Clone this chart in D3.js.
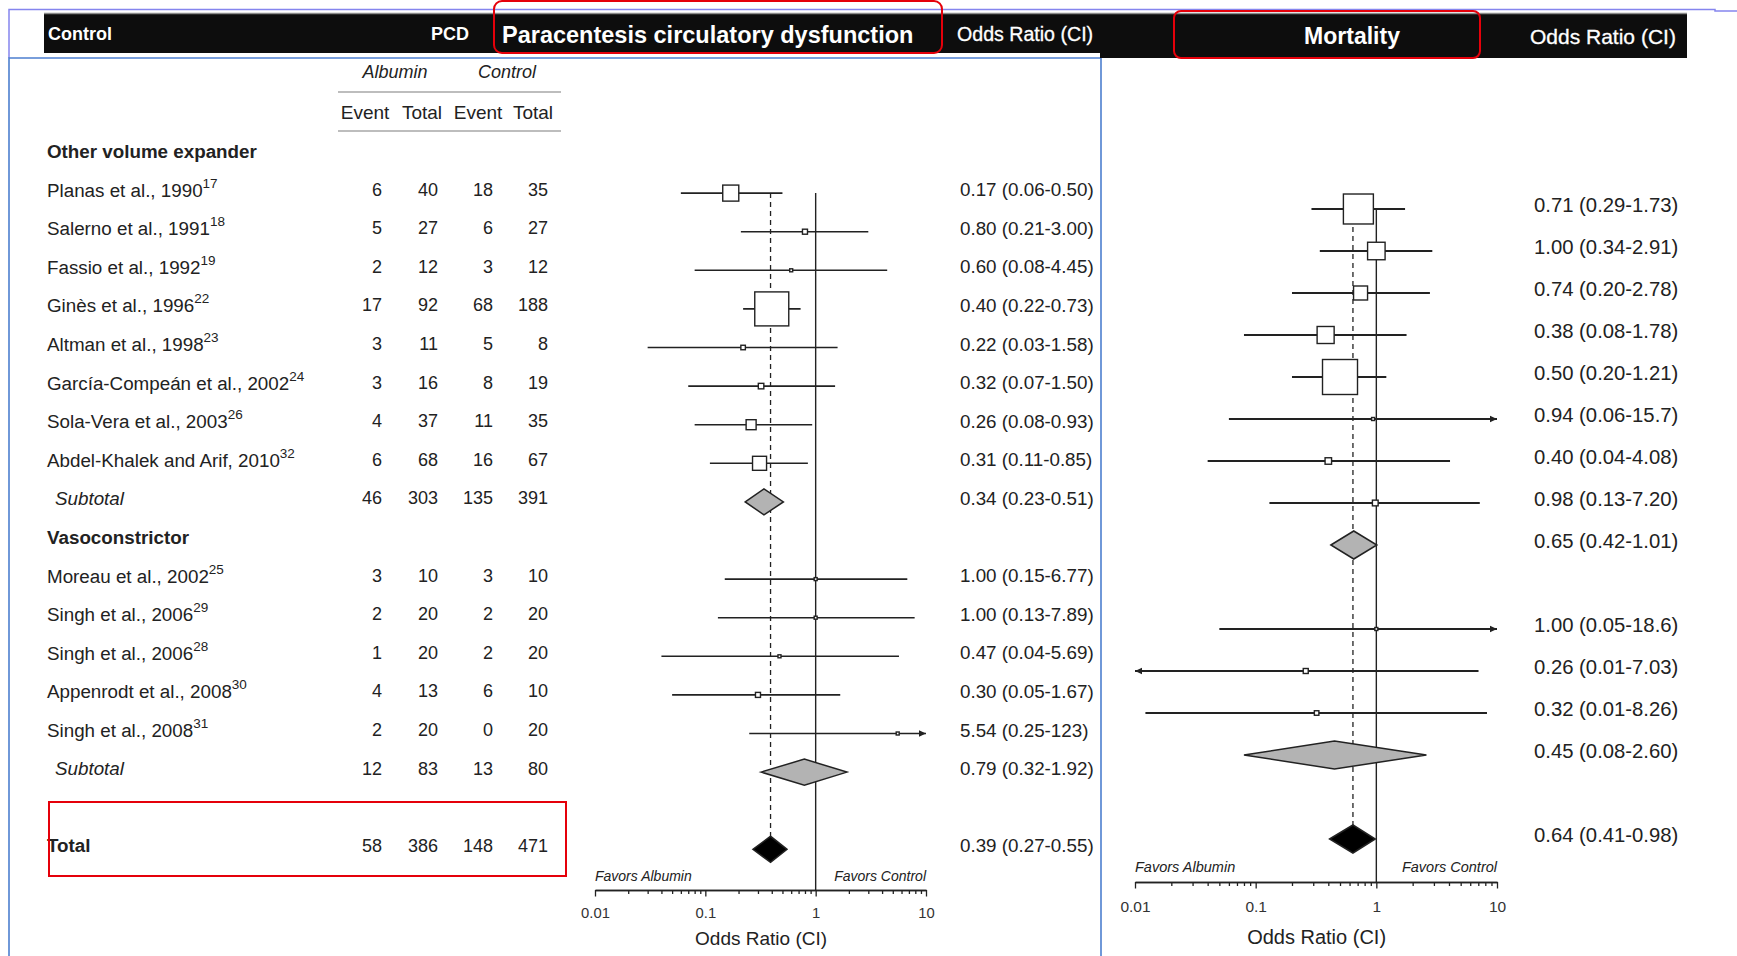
<!DOCTYPE html>
<html>
<head>
<meta charset="utf-8">
<script src="https://cdn.jsdelivr.net/npm/d3@7"></script>
<style>
  body { margin: 0; background: #fff; }
  svg { display: block; }
  text { font-family: "Liberation Sans", Arial, Helvetica, sans-serif; fill: #222; }
</style>
</head>
<body>
<svg id="chart" width="1737" height="956"></svg>
<script>
// ---------- PCD (paracentesis circulatory dysfunction) table ----------
const pcdKinds = ["group", "study", "study", "study", "study", "study", "study", "study", "study", "subtotal",
                  "group", "study", "study", "study", "study", "study", "subtotal", "blank", "total"];
const pcdLabels = ["Other volume expander", "Planas et al., 1990", "Salerno et al., 1991", "Fassio et al., 1992",
                   "Ginès et al., 1996", "Altman et al., 1998", "García-Compeán et al., 2002", "Sola-Vera et al., 2003",
                   "Abdel-Khalek and Arif, 2010", "Subtotal", "Vasoconstrictor", "Moreau et al., 2002",
                   "Singh et al., 2006", "Singh et al., 2006", "Appenrodt et al., 2008", "Singh et al., 2008",
                   "Subtotal", "", "Total"];
const pcdRefs = ["", "17", "18", "19", "22", "23", "24", "26", "32", "", "", "25", "29", "28", "30", "31", "", "", ""];
const albuminEvents = [null, 6, 5, 2, 17, 3, 3, 4, 6, 46, null, 3, 2, 1, 4, 2, 12, null, 58];
const albuminTotals = [null, 40, 27, 12, 92, 11, 16, 37, 68, 303, null, 10, 20, 20, 13, 20, 83, null, 386];
const controlEvents = [null, 18, 6, 3, 68, 5, 8, 11, 16, 135, null, 3, 2, 2, 6, 0, 13, null, 148];
const controlTotals = [null, 35, 27, 12, 188, 8, 19, 35, 67, 391, null, 10, 20, 20, 10, 20, 80, null, 471];
const pcdOR    = [null, 0.17, 0.80, 0.60, 0.40, 0.22, 0.32, 0.26, 0.31, 0.34, null, 1.00, 1.00, 0.47, 0.30, 5.54, 0.79, null, 0.39];
const pcdLower = [null, 0.06, 0.21, 0.08, 0.22, 0.03, 0.07, 0.08, 0.11, 0.23, null, 0.15, 0.13, 0.04, 0.05, 0.25, 0.32, null, 0.27];
const pcdUpper = [null, 0.50, 3.00, 4.45, 0.73, 1.58, 1.50, 0.93, 0.85, 0.51, null, 6.77, 7.89, 5.69, 1.67, 123, 1.92, null, 0.55];
const pcdWeight = [null, 8.9, 0.87, 0.31, 40, 0.7, 1.05, 3.46, 6.8, null, null, 0.31, 0.31, 0.31, 0.87, 0.31, null, null, null];

// ---------- Mortality ----------
const mortKinds = ["study", "study", "study", "study", "study", "study", "study", "study", "subtotal", "blank",
                   "study", "study", "study", "subtotal", "blank", "total"];
const mortOR    = [0.71, 1.00, 0.74, 0.38, 0.50, 0.94, 0.40, 0.98, 0.65, null, 1.00, 0.26, 0.32, 0.45, null, 0.64];
const mortLower = [0.29, 0.34, 0.20, 0.08, 0.20, 0.06, 0.04, 0.13, 0.42, null, 0.05, 0.0096, 0.0122, 0.08, null, 0.41];
const mortUpper = [1.73, 2.91, 2.78, 1.78, 1.21, 15.7, 4.08, 7.20, 1.01, null, 18.6, 7.03, 8.26, 2.60, null, 0.98];
const mortWeight = [22, 7.5, 4.8, 7.1, 30, 0.22, 1.03, 0.8, null, null, 0.22, 0.61, 0.5, null, null, null];

// ---------- axis ----------
const majorTicks = [0.01, 0.1, 1, 10];
const majorTickLabels = ["0.01", "0.1", "1", "10"];

const svg = d3.select("#chart");

// number formatting for "OR (lower-upper)" labels
function fmt(v) {
  if (v >= 100) return v.toFixed(0);
  if (v >= 10) return v.toFixed(1);
  return v.toFixed(2);
}

// ---------- frame lines ----------
svg.append("path").attr("d", "M9,58V9.5H1715V11H1737")
  .attr("fill", "none").attr("stroke", "#8585ee").attr("stroke-width", 1.5);
svg.append("path").attr("d", "M9,956V58H1101V956")
  .attr("fill", "none").attr("stroke", "#4d7fcf").attr("stroke-width", 1.6);

// ---------- header bars ----------
svg.append("rect").attr("x", 44).attr("y", 13).attr("width", 1056).attr("height", 40).attr("fill", "#0d0d0d");
svg.append("rect").attr("x", 1100).attr("y", 13).attr("width", 587).attr("height", 45).attr("fill", "#0d0d0d");
svg.append("line").attr("x1", 44).attr("x2", 1687).attr("y1", 13.5).attr("y2", 13.5)
  .attr("stroke", "#8a8a8a").attr("stroke-width", 1.5);

const hdr = svg.append("g");
hdr.append("text").attr("x", 48).attr("y", 34).attr("dominant-baseline", "central")
  .attr("font-size", 18).attr("font-weight", "bold").style("fill", "#fff").text("Control");
hdr.append("text").attr("x", 469).attr("y", 34).attr("dominant-baseline", "central").attr("text-anchor", "end")
  .attr("font-size", 18).attr("font-weight", "bold").style("fill", "#fff").text("PCD");
hdr.append("text").attr("x", 502).attr("y", 35).attr("dominant-baseline", "central")
  .attr("font-size", 23.5).attr("font-weight", "bold").style("fill", "#fff").text("Paracentesis circulatory dysfunction");
hdr.append("text").attr("x", 957).attr("y", 34).attr("dominant-baseline", "central")
  .attr("font-size", 19.6).style("fill", "#fff").style("stroke", "#fff").style("stroke-width", 0.3)
  .text("Odds Ratio (CI)");
hdr.append("text").attr("x", 1352).attr("y", 36).attr("dominant-baseline", "central").attr("text-anchor", "middle")
  .attr("font-size", 23).attr("font-weight", "bold").style("fill", "#fff").text("Mortality");
hdr.append("text").attr("x", 1530).attr("y", 36).attr("dominant-baseline", "central")
  .attr("font-size", 21).style("fill", "#fff").style("stroke", "#fff").style("stroke-width", 0.3)
  .text("Odds Ratio (CI)");

// ---------- study table ----------
const table = svg.append("g");
const colRight = [382, 438, 493, 548];
const headCenter = [365, 422, 478, 533];
const rowTop = 151, rowPitch = 38.6;
const rowY = i => rowTop + rowPitch * i;

table.append("text").attr("x", 395).attr("y", 72).attr("text-anchor", "middle").attr("dominant-baseline", "central")
  .attr("font-size", 18).attr("font-style", "italic").text("Albumin");
table.append("text").attr("x", 507).attr("y", 72).attr("text-anchor", "middle").attr("dominant-baseline", "central")
  .attr("font-size", 18).attr("font-style", "italic").text("Control");
[92, 131].forEach(y => table.append("line").attr("x1", 338).attr("x2", 561).attr("y1", y).attr("y2", y)
  .attr("stroke", "#bdbdbd").attr("stroke-width", 2));
["Event", "Total", "Event", "Total"].forEach((t, k) =>
  table.append("text").attr("x", headCenter[k]).attr("y", 112).attr("text-anchor", "middle")
    .attr("dominant-baseline", "central").attr("font-size", 19).text(t));

const numberCols = [albuminEvents, albuminTotals, controlEvents, controlTotals];
pcdKinds.forEach((kind, i) => {
  if (kind === "blank") return;
  const y = rowY(i);
  const t = table.append("text").attr("y", y).attr("dominant-baseline", "central").attr("font-size", 18.8);
  if (kind === "group") {
    t.attr("x", 47).attr("font-weight", "bold").text(pcdLabels[i]);
    return;
  }
  if (kind === "study") {
    t.attr("x", 47);
    t.append("tspan").text(pcdLabels[i]);
    t.append("tspan").attr("font-size", 13.5).attr("dy", -7).text(pcdRefs[i]);
  } else if (kind === "subtotal") {
    t.attr("x", 55).attr("font-style", "italic").text(pcdLabels[i]);
  } else if (kind === "total") {
    t.attr("x", 47).attr("font-weight", "bold").text(pcdLabels[i]);
  }
  numberCols.forEach((col, k) => {
    table.append("text").attr("x", colRight[k]).attr("y", y).attr("text-anchor", "end")
      .attr("dominant-baseline", "central").attr("font-size", 18).text(col[i]);
  });
});

// ---------- forest plot ----------
function drawForest(opts, kinds, or, lo, hi, wt) {
  const g = svg.append("g");
  const x = d3.scaleLog().domain([0.01, 10]).range([opts.x0, opts.x1]);
  const size = d3.scaleSqrt().domain([0, d3.max(wt)]).range([0, opts.maxBox]);
  const textY = i => opts.top + opts.pitch * i;
  const markY = i => textY(i) + opts.markDy;
  const first = kinds.indexOf("study");
  const total = kinds.indexOf("total");
  const ink = "#222";

  // reference lines: no effect (OR = 1) and pooled estimate
  g.append("line").attr("x1", x(1)).attr("x2", x(1)).attr("y1", markY(first)).attr("y2", opts.axisY)
    .attr("stroke", ink).attr("stroke-width", 1.4);
  g.append("line").attr("x1", x(or[total])).attr("x2", x(or[total]))
    .attr("y1", markY(first)).attr("y2", markY(total) - opts.diamondH)
    .attr("stroke", ink).attr("stroke-width", 1.3).attr("stroke-dasharray", "5,4");

  // confidence intervals
  kinds.forEach((k, i) => {
    if (k !== "study") return;
    const y = markY(i);
    const xa = x(Math.max(lo[i], 0.01)), xb = x(Math.min(hi[i], 10));
    g.append("line").attr("x1", xa).attr("x2", xb).attr("y1", y).attr("y2", y)
      .attr("stroke", ink).attr("stroke-width", opts.lineW);
    if (hi[i] > 10) {
      g.append("path").attr("d", `M${xb},${y}l-7,-3.2v6.4z`).attr("fill", ink);
    }
    if (lo[i] < 0.01) {
      g.append("path").attr("d", `M${xa},${y}l7,-3.2v6.4z`).attr("fill", ink);
    }
  });

  // study boxes sized by weight
  kinds.forEach((k, i) => {
    if (k !== "study") return;
    const s = Math.max(size(wt[i]), 2.6);
    g.append("rect").attr("x", x(or[i]) - s / 2).attr("y", markY(i) - s / 2)
      .attr("width", s).attr("height", s)
      .attr("fill", "#fff").attr("stroke", ink).attr("stroke-width", 1.4);
  });

  // pooled diamonds
  kinds.forEach((k, i) => {
    if (k !== "subtotal" && k !== "total") return;
    const y = markY(i), h = opts.diamondH;
    const pts = [[x(lo[i]), y], [x(or[i]), y - h], [x(hi[i]), y], [x(or[i]), y + h]];
    g.append("path").attr("d", "M" + pts.join("L") + "Z")
      .attr("fill", k === "total" ? "#000" : "#b3b3b3").attr("stroke", ink).attr("stroke-width", 1.5);
  });

  // value labels
  kinds.forEach((k, i) => {
    if (or[i] == null) return;
    g.append("text").attr("x", opts.labelX).attr("y", textY(i)).attr("dominant-baseline", "central")
      .attr("font-size", opts.labelFont)
      .text(`${fmt(or[i])} (${fmt(lo[i])}-${fmt(hi[i])})`);
  });

  // log axis: minor ticks then major ticks with labels
  const minor = [];
  [0.01, 0.1, 1].forEach(d => { for (let m = 2; m <= 9; m++) minor.push(d * m); });
  const minorAxis = d3.axisBottom(x).tickValues(minor).tickSize(4).tickSizeOuter(0).tickFormat("");
  const majorAxis = d3.axisBottom(x).tickValues(majorTicks).tickSize(6.5).tickSizeOuter(0)
    .tickPadding(opts.tickPad).tickFormat((d, j) => majorTickLabels[j]);
  const ga = g.append("g").attr("transform", `translate(0,${opts.axisY})`).call(minorAxis);
  const gb = g.append("g").attr("transform", `translate(0,${opts.axisY})`).call(majorAxis);
  [ga, gb].forEach(a => {
    a.selectAll("path,line").attr("stroke", ink).attr("stroke-width", 1.3);
    a.selectAll("text").attr("font-size", opts.tickFont).style("fill", "#333")
      .attr("font-family", "\"Liberation Sans\", Arial, sans-serif");
  });

  g.append("text").attr("x", opts.x0).attr("y", opts.favorsY).attr("font-size", opts.favorsFont)
    .attr("font-style", "italic").attr("dominant-baseline", "central").text("Favors Albumin");
  g.append("text").attr("x", opts.x1).attr("y", opts.favorsY).attr("font-size", opts.favorsFont)
    .attr("font-style", "italic").attr("text-anchor", "end").attr("dominant-baseline", "central").text("Favors Control");
  g.append("text").attr("x", x(0.32)).attr("y", opts.titleY).attr("font-size", opts.titleFont)
    .attr("text-anchor", "middle").attr("dominant-baseline", "central").text("Odds Ratio (CI)");
}

drawForest({
  x0: 595, x1: 926, top: rowTop, pitch: rowPitch, markDy: 3.5, maxBox: 34, lineW: 1.6,
  diamondH: 13, axisY: 890, tickPad: 10.5, tickFont: 14.8, labelX: 960, labelFont: 18.8,
  favorsY: 876, favorsFont: 14, titleY: 938, titleFont: 19
}, pcdKinds, pcdOR, pcdLower, pcdUpper, pcdWeight);

drawForest({
  x0: 1135, x1: 1497, top: 205, pitch: 42, markDy: 4, maxBox: 35, lineW: 1.8,
  diamondH: 14, axisY: 882, tickPad: 12.5, tickFont: 15.5, labelX: 1534, labelFont: 20.3,
  favorsY: 867, favorsFont: 14.5, titleY: 937, titleFont: 20
}, mortKinds, mortOR, mortLower, mortUpper, mortWeight);

// ---------- highlight frames ----------
const hl = svg.append("g").attr("fill", "none").attr("stroke", "#e5000a").attr("stroke-width", 2);
hl.append("rect").attr("x", 494).attr("y", 1).attr("width", 448).attr("height", 52).attr("rx", 8);
hl.append("rect").attr("x", 1174).attr("y", 11).attr("width", 306).attr("height", 47).attr("rx", 7);
hl.append("rect").attr("x", 49).attr("y", 802).attr("width", 517).attr("height", 74);
</script>
</body>
</html>
